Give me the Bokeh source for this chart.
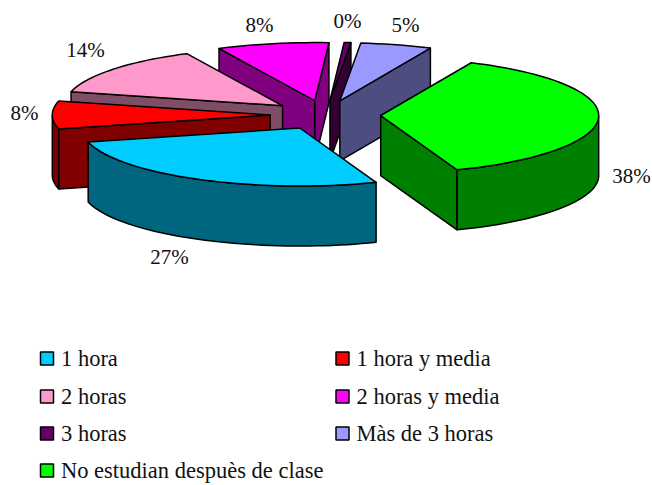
import math
from bokeh.plotting import figure
from bokeh.models import Range1d
from bokeh.core.properties import value
from bokeh.embed import file_html
from bokeh.resources import INLINE

categories = ["1 hora", "1 hora y media", "2 horas", "2 horas y media",
              "3 horas", "Màs de 3 horas", "No estudian despuès de clase"]
shares = [26.9, 7.8, 13.9, 8.3, 0.5, 5.3, 37.6]
share_labels = ["27%", "8%", "14%", "8%", "0%", "5%", "38%"]
top_colors = ["#00CCFF", "#FF0000", "#FF99CC", "#FF00FF", "#660066", "#9999FF", "#00FF00"]
side_colors = ["#006680", "#800000", "#804D66", "#800080", "#330033", "#4D4D80", "#008000"]

# layout of the projected pie, in reference page pixels
CX, CY, RX, RY, DEPTH, EXPLODE = 325.0, 114.5, 218.0, 58.0, 60.0, 0.2534
START_DEG = -69.5
label_x = [169, 24, 85, 259, 347, 405, 631]
label_y = [256, 112, 49, 24, 20, 24, 175]
legend_x = [46.5, 342, 46.5, 342, 46.5, 342, 46.5]
legend_y = [358, 358, 396, 396, 433, 433, 470]
draw_order = [3, 4, 5, 2, 1, 6, 0]

p = figure(width=652, height=485, output_backend="svg", toolbar_location=None,
           x_range=Range1d(0, 652), y_range=Range1d(485, 0),
           x_axis_type=None, y_axis_type=None, min_border=0,
           outline_line_color=None)
p.grid.visible = False

total = sum(shares)
spans = []
a = START_DEG
for s in shares:
    b = a - 360.0 * s / total
    spans.append((a, b))
    a = b


def ell(ax, ay, deg):
    r = math.radians(deg)
    return ax + RX * math.cos(r), ay - RY * math.sin(r)


for i in draw_order:
    a, b = spans[i]
    mid = (a + b) / 2
    ax = CX + EXPLODE * RX * math.cos(math.radians(mid))
    ay = CY - EXPLODE * RY * math.sin(math.radians(mid))
    n = max(3, int(abs(a - b) / 2))
    degs = [a + (b - a) * k / n for k in range(n + 1)]
    rim = [ell(ax, ay, d) for d in degs]
    polys = []
    # only the radial faces that turn towards the viewer
    if math.cos(math.radians(a)) < 0:
        ex, ey = rim[0]
        polys.append(([ax, ex, ex, ax], [ay, ey, ey + DEPTH, ay + DEPTH], side_colors[i]))
    if math.cos(math.radians(b)) > 0:
        ex, ey = rim[-1]
        polys.append(([ax, ex, ex, ax], [ay, ey, ey + DEPTH, ay + DEPTH], side_colors[i]))
    # outer wall: only the part of the rim facing the viewer
    run = [pt for d, pt in zip(degs, rim) if math.sin(math.radians(d)) <= 0.001]
    if len(run) > 1:
        xs = [q[0] for q in run] + [q[0] for q in reversed(run)]
        ys = [q[1] for q in run] + [q[1] + DEPTH for q in reversed(run)]
        polys.append((xs, ys, side_colors[i]))
    polys.append(([ax] + [q[0] for q in rim], [ay] + [q[1] for q in rim], top_colors[i]))
    for xs, ys, c in polys:
        p.patch(xs, ys, fill_color=c, line_color="black", line_width=1.5, line_join="round")

p.text(label_x, label_y, text=share_labels, text_font=value("Liberation Serif"),
       text_font_size="21px", text_color="#111111", text_align="center", text_baseline="middle")

p.scatter(legend_x, legend_y, marker="square", size=13, fill_color=top_colors,
          line_color="black", line_width=1.5)
p.text([x + 14 for x in legend_x], legend_y, text=categories,
       text_font=value("Liberation Serif"), text_font_size="22.5px", text_color="#111111",
       text_align="left", text_baseline="middle")

open("out.html", "w").write(file_html(p, INLINE))
